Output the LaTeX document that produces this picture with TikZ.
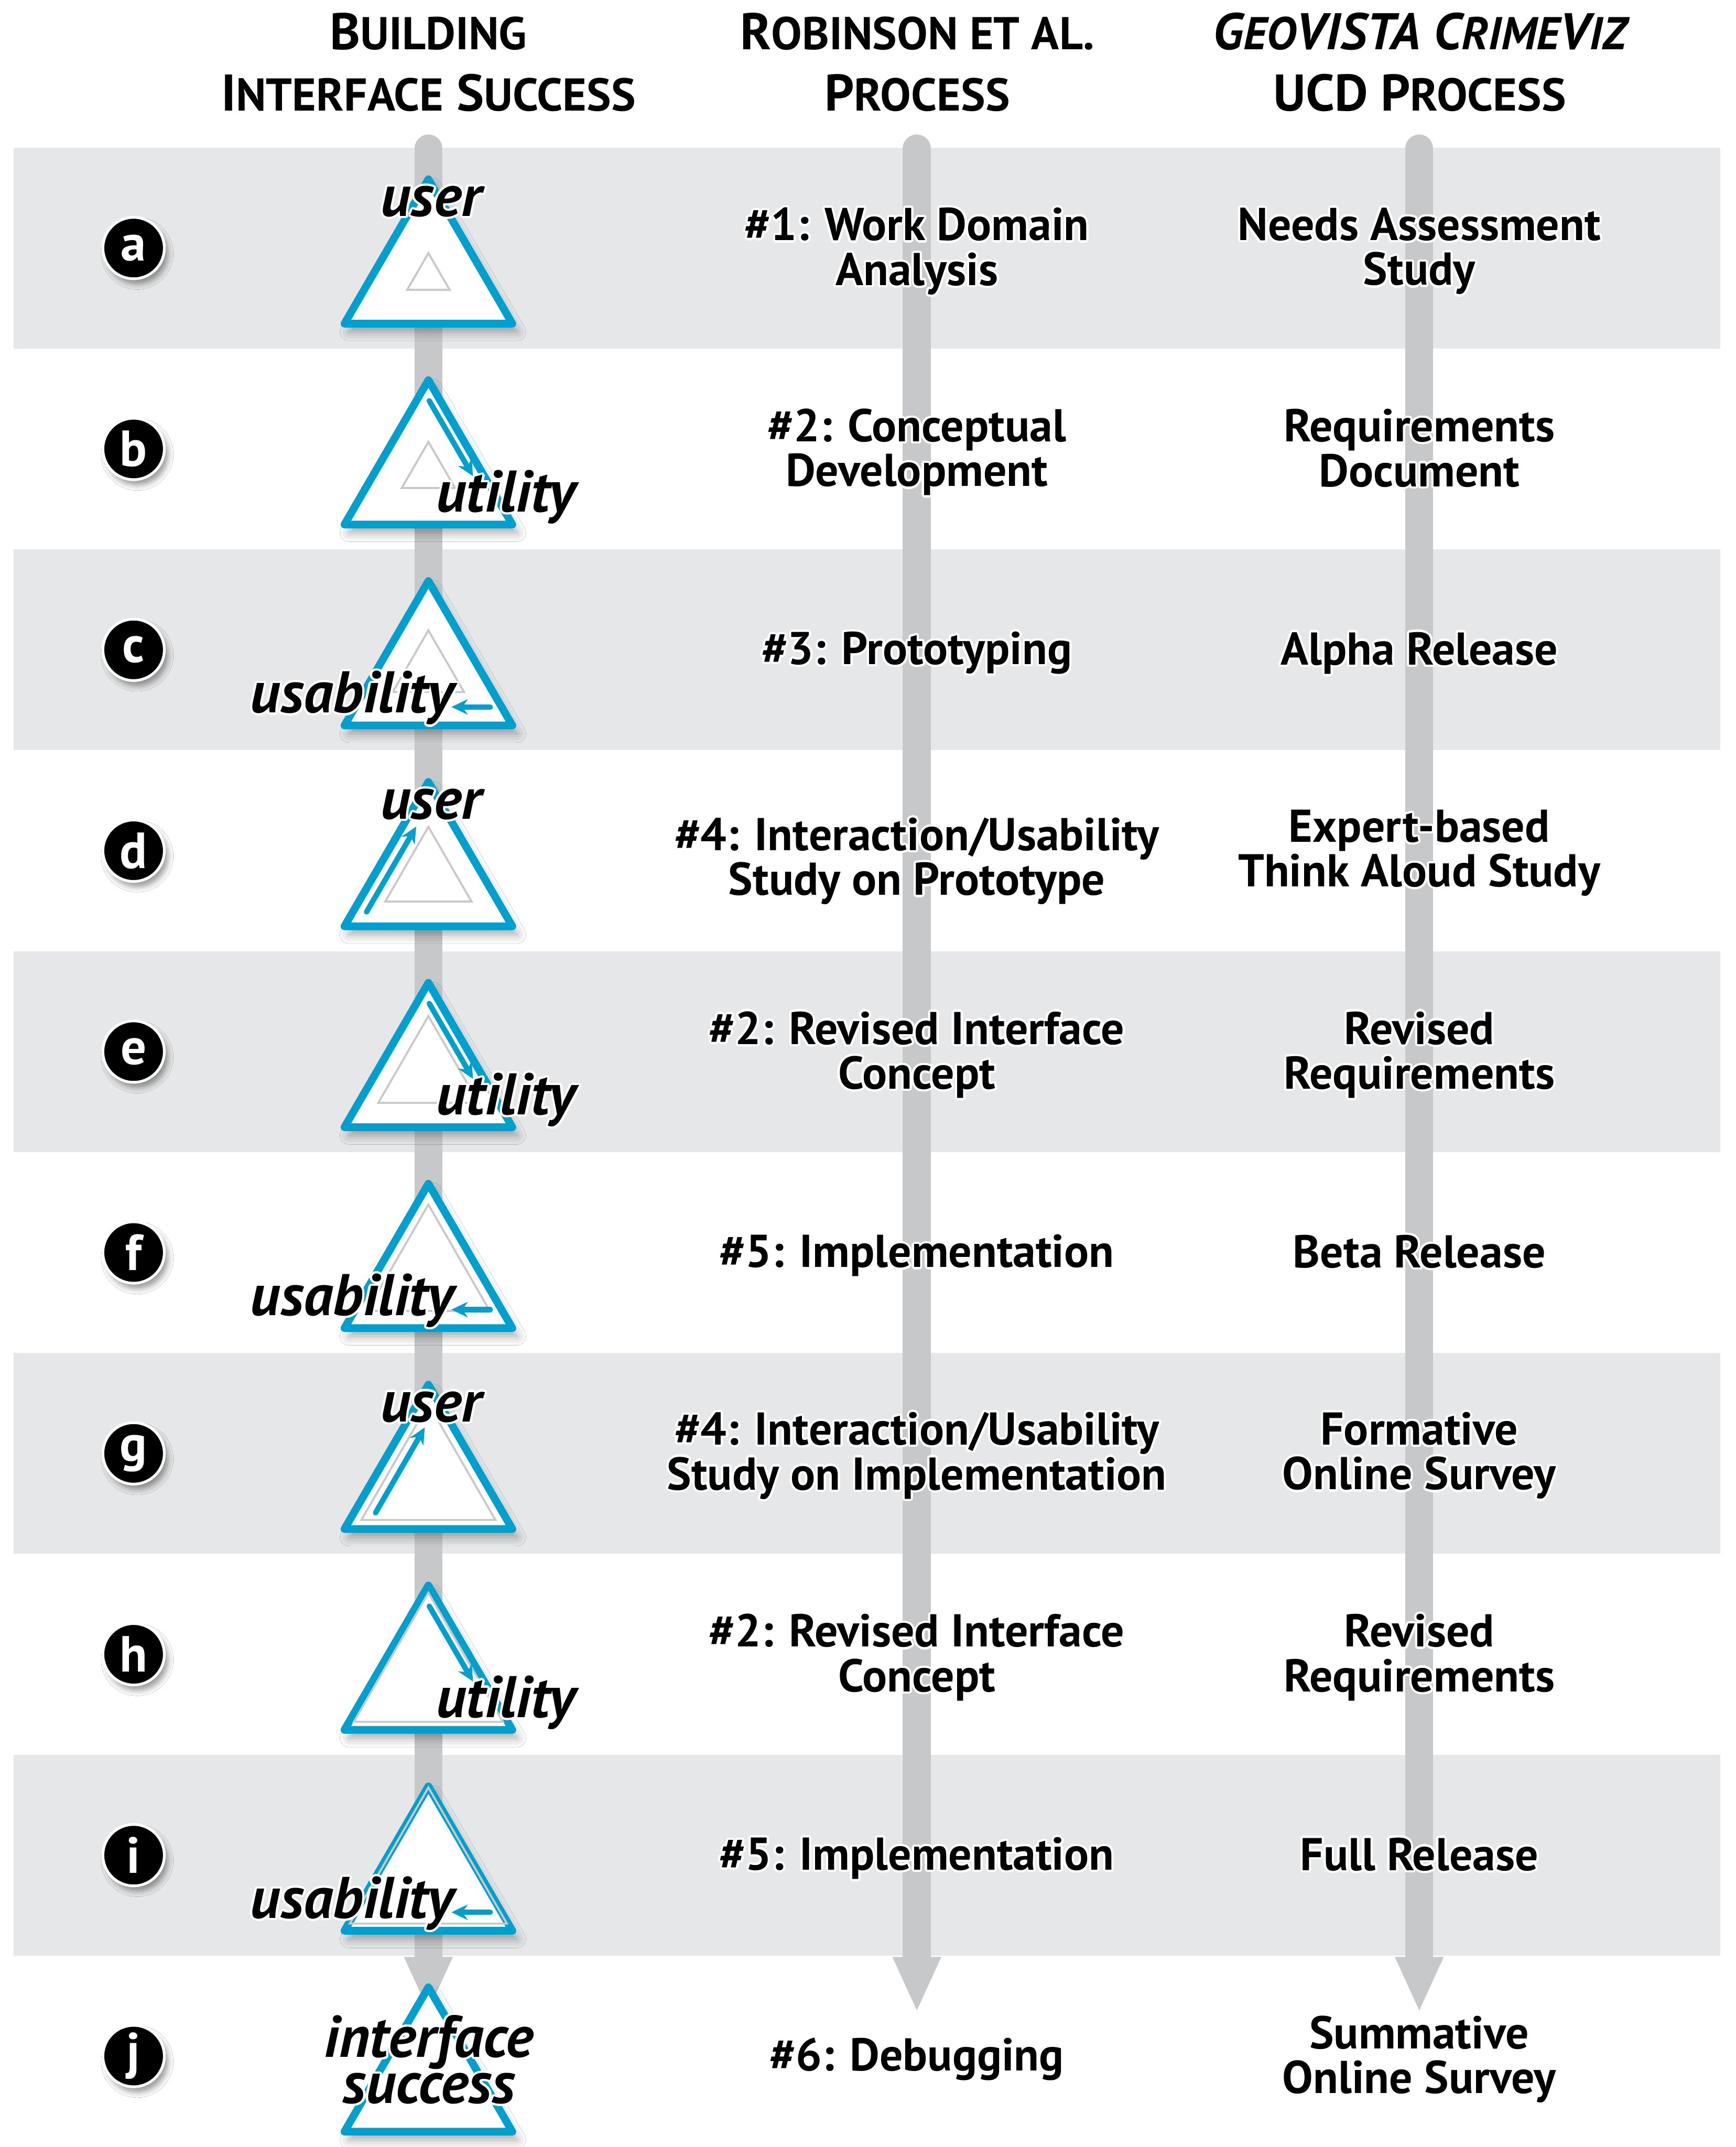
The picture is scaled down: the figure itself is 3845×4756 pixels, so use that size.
\documentclass[tikz,border=0pt]{standalone}
\usepackage{fontspec}
\setmainfont{PT Sans}
\usepackage[copies]{contour}
\contourlength{1.4pt}
\usetikzlibrary{arrows.meta,shadows.blur}
\definecolor{bandgray}{HTML}{E6E7E8}
\definecolor{trackgray}{HTML}{C7C8CA}
\definecolor{triblue}{HTML}{009FCE}
\definecolor{innergray}{HTML}{C9C9C9}
\newcommand{\hl}[1]{\contour{white}{#1}}
\newcommand{\capsc}[2]{{\fontsize{32.5}{38.6}\selectfont #1}{\fontsize{29}{38.6}\selectfont #2}}

\begin{document}
\begin{tikzpicture}[
  x=0.1mm, y=-0.1mm,
  font=\bfseries\fontsize{29}{28.2}\selectfont,
  band/.style={fill=bandgray},
  track/.style={draw=trackgray, line width=6.2mm, line cap=round,
                -{Triangle[length=12.3mm, width=9.8mm]}},
  tri/.style={draw=triblue, fill=white, line width=1.7mm, line join=round,
              blur shadow={shadow xshift=1mm, shadow yshift=-1.8mm,
                           shadow blur radius=2mm, shadow opacity=35}},
  inner/.style={draw=innergray, line width=0.45mm},
  flow/.style={draw=triblue, line width=1.2mm, line cap=round,
               -{Stealth[length=3.6mm, width=3.4mm]}},
  lbl/.style={font=\bfseries\itshape\fontsize{37}{28}\selectfont,
              inner sep=0pt, align=center, anchor=base},
  txt/.style={align=center, inner sep=0pt},
  head/.style={align=center, inner sep=0pt,
               font=\bfseries\fontsize{32.5}{38.6}\selectfont},
  badge/.style={circle, fill=black, draw=white, line width=0.6mm,
                minimum size=13.6mm, inner sep=0pt, text=white,
                font=\bfseries\fontsize{32}{32}\selectfont,
                blur shadow={shadow xshift=0.8mm, shadow yshift=-1.2mm,
                             shadow blur radius=1.2mm, shadow opacity=40}}
]
  \useasboundingbox (0,0) rectangle (3845,4756);
  \fill[white] (0,0) rectangle (3845,4756);

  % shaded rows
  \foreach \k in {0,2,4,6,8}
    \fill[band] (30,{327+445*\k}) rectangle (3811,{772+445*\k});

  % column tracks
  \foreach \c/\x in {1/949,2/2031,3/3144}{
    \coordinate (s\c) at (\x,329);
    \coordinate (e\c) at (\x,4458);
    \draw[track] (s\c) -- (e\c);
  }

  % headings
  \node[head] (h1) at (949,138) {\capsc{B}{UILDING}\\\capsc{I}{NTERFACE} \capsc{S}{UCCESS}};
  \node[head] (h2) at (2032,138) {\capsc{R}{OBINSON ET AL.}\\\capsc{P}{ROCESS}};
  \node[head] (h3) at (3145,138) {{\itshape\capsc{G}{EO}\capsc{VISTA}{} \capsc{C}{RIME}\capsc{V}{IZ}}\\\capsc{UCD}{} \capsc{P}{ROCESS}};

  % triangles with the growing inner triangle
  \foreach \k/\w/\b in {0/94/315, 1/118/309, 2/158/316, 3/191/335, 4/222/336,
                        5/272/352, 6/297/370, 7/330/372, 8/348/374}{
    \pgfmathsetmacro\T{327+445*\k}
    \draw[tri] (949,\T+70) -- (763,\T+390) -- (1135,\T+390) -- cycle;
    \draw[inner] (949,{\T+\b-0.866*\w}) -- ({949-\w/2},\T+\b)
                 -- ({949+\w/2},\T+\b) -- cycle;
  }
  \draw[tri] (949,4402) -- (763,4722) -- (1135,4722) -- cycle;

  % blue flow arrows
  \foreach \k in {1,4,7}{
    \pgfmathsetmacro\T{327+445*\k}
    \coordinate (ft\k) at (951,\T+116);
    \coordinate (fh\k) at (1048,\T+283);
    \draw[flow] (ft\k) -- (fh\k);
  }
  \foreach \k in {2,5,8}{
    \pgfmathsetmacro\T{327+445*\k}
    \coordinate (ft\k) at (1086,\T+349);
    \coordinate (fh\k) at (1000,\T+349);
    \draw[flow] (ft\k) -- (fh\k);
  }
  \coordinate (ft3) at (812,2020);
  \coordinate (fh3) at (922,1831);
  \coordinate (ft6) at (832,3351);
  \coordinate (fh6) at (941,3162);
  \draw[flow] (ft3) -- (fh3);
  \draw[flow] (ft6) -- (fh6);

  % triangle labels
  \node[lbl] (ua) at (955,479) {\hl{user}};
  \node[lbl] (ub) at (1121,1134) {\hl{utility}};
  \node[lbl] (uc) at (780,1579) {\hl{usability}};
  \node[lbl] (ud) at (955,1814) {\hl{user}};
  \node[lbl] (ue) at (1121,2469) {\hl{utility}};
  \node[lbl] (uf) at (780,2914) {\hl{usability}};
  \node[lbl] (ug) at (955,3149) {\hl{user}};
  \node[lbl] (uh) at (1121,3804) {\hl{utility}};
  \node[lbl] (ui) at (780,4249) {\hl{usability}};
  \node[lbl] (uj) at (950,4659) {\hl{interface}\\\hl{success}};

  % Robinson et al. steps
  \node[txt] (pa) at (2031,559) {\hl{\#1: Work Domain}\\\hl{Analysis}};
  \node[txt] (pb) at (2031,1004) {\hl{\#2: Conceptual}\\\hl{Development}};
  \node[txt] (pc) at (2031,1449) {\hl{\#3: Prototyping}};
  \node[txt] (pd) at (2031,1910) {\hl{\#4: Interaction/Usability}\\\hl{Study on Prototype}};
  \node[txt] (pe) at (2031,2339) {\hl{\#2: Revised Interface}\\\hl{Concept}};
  \node[txt] (pf) at (2031,2784) {\hl{\#5: Implementation}};
  \node[txt] (pg) at (2031,3227) {\hl{\#4: Interaction/Usability}\\\hl{Study on Implementation}};
  \node[txt] (ph) at (2031,3674) {\hl{\#2: Revised Interface}\\\hl{Concept}};
  \node[txt] (pi) at (2031,4119) {\hl{\#5: Implementation}};
  \node[txt] (pj) at (2031,4564) {\hl{\#6: Debugging}};

  % CrimeViz UCD steps
  \node[txt] (ca) at (3144,559) {\hl{Needs Assessment}\\\hl{Study}};
  \node[txt] (cb) at (3144,995) {\hl{Requirements}\\\hl{Document}};
  \node[txt] (cc) at (3144,1449) {\hl{Alpha Release}};
  \node[txt] (cd) at (3144,1892) {\hl{Expert-based}\\\hl{Think Aloud Study}};
  \node[txt] (ce) at (3144,2339) {\hl{Revised}\\\hl{Requirements}};
  \node[txt] (cf) at (3144,2775) {\hl{Beta Release}};
  \node[txt] (cg) at (3144,3227) {\hl{Formative}\\\hl{Online Survey}};
  \node[txt] (ch) at (3144,3674) {\hl{Revised}\\\hl{Requirements}};
  \node[txt] (ci) at (3144,4110) {\hl{Full Release}};
  \node[txt] (cj) at (3144,4564) {\hl{Summative}\\\hl{Online Survey}};

  % row letters
  \foreach \l [count=\i from 0] in {a,b,c,d,e,f,g,h,i,j}
    \node[badge] (bd\l) at (296,{549.5+445*\i}) {\l};
\end{tikzpicture}
\end{document}
